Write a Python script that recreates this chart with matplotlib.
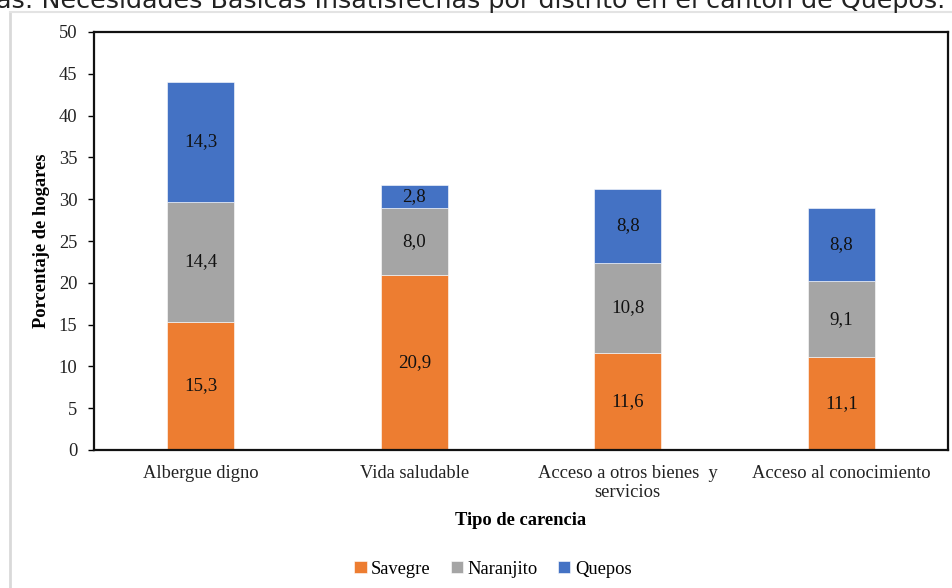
import matplotlib
matplotlib.use("Agg")
import matplotlib.pyplot as plt
from matplotlib.lines import Line2D
import numpy as np

categories = ["Albergue digno", "Vida saludable",
              "Acceso a otros bienes  y\nservicios", "Acceso al conocimiento"]
series_names = ["Savegre", "Naranjito", "Quepos"]
savegre = [15.3, 20.9, 11.6, 11.1]
naranjito = [14.4, 8.0, 10.8, 9.1]
quepos = [14.3, 2.8, 8.8, 8.8]
colors = ["#ED7D31", "#A5A5A5", "#4472C4"]
yticks = [0, 5, 10, 15, 20, 25, 30, 35, 40, 45, 50]

serif = "Liberation Serif"
fs = 13.3

fig = plt.figure(figsize=(9.53, 5.88), dpi=100)
fig.patch.set_facecolor("white")

# card border and clipped caption above it
fig.add_artist(Line2D([10 / 953, 10 / 953], [0, 1 - 12 / 588], color="#D9D9D9", lw=2))
fig.add_artist(Line2D([10 / 953, 1], [1 - 12 / 588, 1 - 12 / 588], color="#E3E3E3", lw=1.5))
fig.text(-0.004, 1 - 8 / 588, "as: Necesidades Básicas Insatisfechas por distrito en el cantón de Quepos.",
         fontsize=18.3, family="DejaVu Sans", color="#222222", ha="left", va="baseline")

ax = fig.add_axes([94 / 953, 1 - 450 / 588, (948 - 94) / 953, (450 - 32) / 588])
x = np.arange(len(categories))
width = 0.315
bottom = np.zeros(len(categories))
for name, vals, col in zip(series_names, [savegre, naranjito, quepos], colors):
    vals = np.array(vals)
    ax.bar(x, vals, width, bottom=bottom, color=col, label=name,
           edgecolor="white", linewidth=0.4)
    for xi, b, v in zip(x, bottom, vals):
        ax.text(xi, b + v / 2, f"{v:.1f}".replace(".", ","), ha="center", va="center",
                fontsize=13.6, family=serif, color="#111111")
    bottom += vals

ax.set_xlim(-0.5, 3.5)
ax.set_ylim(0, 50)
ax.set_yticks(yticks)
ax.set_yticklabels([str(t) for t in yticks], family=serif, fontsize=fs, color="#222222")
ax.set_xticks(x)
ax.set_xticklabels(categories, family=serif, fontsize=fs, color="#222222", linespacing=1.12)
ax.tick_params(axis="x", length=0, pad=11)
ax.tick_params(axis="y", length=4, width=1, direction="out", pad=8)
for s in ax.spines.values():
    s.set_linewidth(1.6)
    s.set_color("#111111")

ax.set_ylabel("Porcentaje de hogares", family=serif, fontsize=fs, fontweight="bold", labelpad=6)
ax.set_xlabel("Tipo de carencia", family=serif, fontsize=fs, fontweight="bold", labelpad=8)

fig.legend(loc="center", bbox_to_anchor=(493 / 953, 1 - 569 / 588), ncol=3, frameon=False,
           prop={"family": serif, "size": fs}, handlelength=0.65, handleheight=0.65,
           handletextpad=0.25, columnspacing=1.1)

fig.savefig("out.png", dpi=100)
